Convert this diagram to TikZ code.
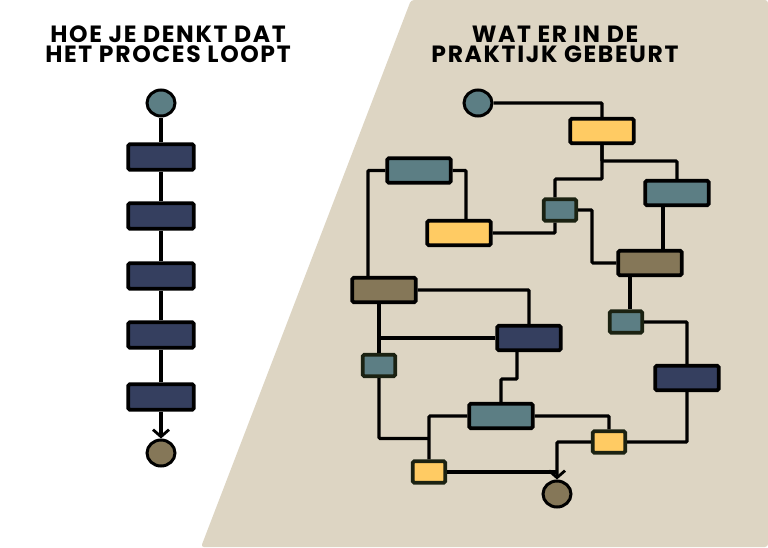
\documentclass[tikz,border=0pt]{standalone}
\usepackage{fontspec}
\setmainfont{Poppins}[LetterSpace=7]
\usetikzlibrary{shapes.geometric,arrows.meta}

\definecolor{zand}{HTML}{DDD5C3}
\definecolor{marine}{HTML}{353F5F}
\definecolor{petrol}{HTML}{5C7E84}
\definecolor{geel}{HTML}{FFCB63}
\definecolor{taupe}{HTML}{857758}
\definecolor{olijf}{HTML}{1B2212}

\begin{document}
\begin{tikzpicture}[x=1pt, y=-1pt,
		lijn/.style={line width=3.2pt, rounded corners=1pt},
		pijl/.style={lijn, -{Straight Barb[length=7pt, width=16pt, line width=2.8pt]}},
		stap/.style={draw, line width=3.6pt, rounded corners=1.5pt, minimum width=65.5pt, minimum height=25.5pt, inner sep=0pt},
		groot/.style={draw, line width=3.6pt, rounded corners=1.5pt, minimum width=63.5pt, minimum height=24.5pt, inner sep=0pt},
		klein/.style={draw=olijf, line width=3.6pt, rounded corners=1.5pt, minimum width=32.5pt, minimum height=21.5pt, inner sep=0pt},
		rond/.style={draw, ellipse, line width=3pt, minimum width=28pt, minimum height=26pt, inner sep=0pt},
		titel/.style={anchor=base, inner sep=0pt, align=center, font=\bfseries\fontsize{23.5}{20.5}\selectfont}]
		\useasboundingbox ( 0, 0 ) rectangle ( 768, 547 );

		% achtergrond praktijk
		\fill [zand, rounded corners=3pt] ( 411, 0 ) -- ( 768, 0 ) -- ( 768, 547 ) -- ( 201, 547 ) -- cycle;

		% titels
		\node [titel] (titelL) at ( 168, 62.5 ) {HOE JE DENKT DAT\\HET PROCES LOOPT};
		\node [titel] (titelR) at ( 555, 62.5 ) {WAT ER IN DE\\PRAKTIJK GEBEURT};

		% theorie
		\node [rond, fill=petrol] (ls) at ( 161, 103 ) {};
		\node [stap, fill=marine] (l1) at ( 161, 157 ) {};
		\node [stap, fill=marine] (l2) at ( 161, 216 ) {};
		\node [stap, fill=marine] (l3) at ( 161, 276 ) {};
		\node [stap, fill=marine] (l4) at ( 161, 335 ) {};
		\node [stap, fill=marine] (l5) at ( 161, 397 ) {};
		\node [rond, fill=taupe] (le) at ( 161, 453 ) {};

		\draw [lijn] (ls.south) -- (l1.north);
		\draw [lijn] (l1.south) -- (l2.north);
		\draw [lijn] (l2.south) -- (l3.north);
		\draw [lijn] (l3.south) -- (l4.north);
		\draw [lijn] (l4.south) -- (l5.north);
		\draw [pijl] (l5.south) -- (le.north);

		% praktijk
		\node [rond, fill=petrol] (rs) at ( 478, 103 ) {};
		\node [groot, fill=geel] (y1) at ( 602, 131 ) {};
		\node [groot, fill=petrol] (t1) at ( 419, 170.5 ) {};
		\node [groot, fill=petrol] (t2) at ( 677, 193 ) {};
		\node [klein, fill=petrol] (s1) at ( 560, 210 ) {};
		\node [groot, fill=geel] (y2) at ( 459, 233 ) {};
		\node [groot, fill=taupe] (b2) at ( 650, 263 ) {};
		\node [groot, fill=taupe] (b1) at ( 384, 290 ) {};
		\node [klein, fill=petrol] (s3) at ( 626, 322 ) {};
		\node [groot, fill=marine] (n1) at ( 529, 338 ) {};
		\node [klein, fill=petrol] (s2) at ( 379, 365.5 ) {};
		\node [groot, fill=marine] (n2) at ( 687, 378 ) {};
		\node [groot, fill=petrol] (t3) at ( 501, 416 ) {};
		\node [klein, fill=geel] (y4) at ( 609, 442 ) {};
		\node [klein, fill=geel] (y3) at ( 429, 472 ) {};
		\node [rond, fill=taupe] (re) at ( 557, 494 ) {};

		\draw [lijn] (rs.east) -| (y1.north);
		\draw [lijn] (y1.south) -- ++( 0, 16 ) -| (t2.north);
		\draw [lijn] (y1.south) -- ++( 0, 34 ) -| ([xshift=-5pt]s1.north);
		\draw [lijn] ([xshift=-5pt]s1.south) |- (y2.east);
		\draw [lijn] (t1.east) -| ([xshift=7pt]y2.north);
		\draw [lijn] (t1.west) -| ([xshift=-16pt]b1.north);
		\draw [lijn] (s1.east) -- ++( 14, 0 ) |- (b2.west);
		\draw [lijn] ([xshift=-14pt]t2.south) -- ([xshift=13pt]b2.north);
		\draw [lijn] ([xshift=-20pt]b2.south) -- ([xshift=4pt]s3.north);
		\draw [lijn] (b1.east) -| (n1.north);
		\draw [lijn] ([xshift=-5pt]b1.south) -- (s2.north);
		\draw [lijn] (n1.west) -- (n1.west -| s2.north);
		\draw [lijn] (s2.south) |- ([yshift=21pt]y3.north);
		\draw [lijn] (t3.west) -| (y3.north);
		\draw [lijn] ([xshift=-12pt]n1.south) -- ++( 0, 27 ) -| (t3.north);
		\draw [lijn] (t3.east) -| (y4.north);
		\draw [lijn] (s3.east) -| (n2.north);
		\draw [lijn] (y4.east) -| (n2.south);
		\draw [lijn] (y3.east) -- (y3.east -| re.north);
		\draw [pijl] (y4.west) -| (re.north);
	\end{tikzpicture}
\end{document}
